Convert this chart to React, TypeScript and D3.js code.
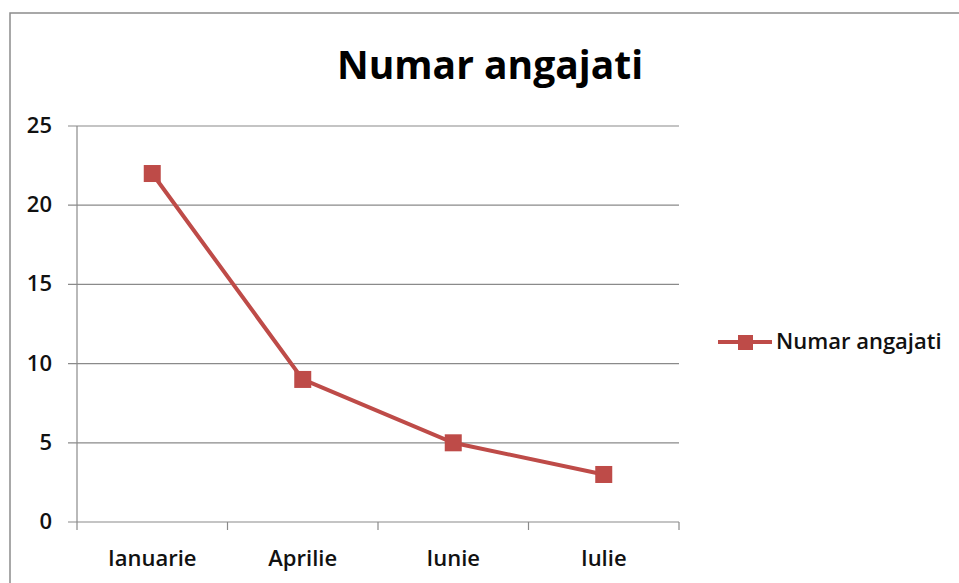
import React from "react";
import * as d3 from "d3";

const categories = ["Ianuarie", "Aprilie", "Iunie", "Iulie"];
const values = [22, 9, 5, 3];
const yTicks = [0, 5, 10, 15, 20, 25];
const seriesName = "Numar angajati";
const title = "Numar angajati";

const W = 959;
const H = 583;
const FONT = "'Open Sans', 'Noto Sans', sans-serif";
const COLOR = "#BE4B48";

export default function App() {
  const left = 77, right = 679, top = 126, bottom = 522;
  const x = d3.scaleBand<string>().domain(categories).range([left, right]);
  const y = d3.scaleLinear().domain([0, 25]).range([bottom, top]);
  const line = d3
    .line<number>()
    .x((_, i) => (x(categories[i]) as number) + x.bandwidth() / 2)
    .y((d) => y(d));
  const boundaries = categories.map((c) => (x(c) as number) + x.bandwidth());
  const ms = 17;
  return (
    <svg
      width={W}
      height={H}
      style={{ position: "absolute", left: 0, top: 0, background: "#fff" }}
    >
      <rect x={10} y={13} width={W} height={H} fill="#fff" stroke="#8c8c8c" strokeWidth={1.5} />
      <text x={490} y={79} textAnchor="middle" fontFamily={FONT} fontWeight={700} fontSize={39} fill="#000">
        {title}
      </text>
      {yTicks.map((t) => (
        <g key={t}>
          <line x1={68} x2={right} y1={y(t)} y2={y(t)} stroke="#8a8a8a" strokeWidth={1.2} />
          <text x={52} y={y(t) + 7} textAnchor="end" fontFamily={FONT} fontWeight={600} fontSize={22} fill="#111">
            {t}
          </text>
        </g>
      ))}
      <line x1={left} x2={left} y1={top} y2={bottom + 8} stroke="#8a8a8a" strokeWidth={1.2} />
      {boundaries.map((b, i) => (
        <line key={i} x1={b} x2={b} y1={bottom} y2={bottom + 8} stroke="#8a8a8a" strokeWidth={1.2} />
      ))}
      {categories.map((c) => (
        <text
          key={c}
          x={(x(c) as number) + x.bandwidth() / 2}
          y={566}
          textAnchor="middle"
          fontFamily={FONT}
          fontWeight={600}
          fontSize={22}
          fill="#111"
        >
          {c}
        </text>
      ))}
      <path d={line(values) || ""} fill="none" stroke={COLOR} strokeWidth={4} />
      {values.map((v, i) => (
        <rect
          key={i}
          x={(x(categories[i]) as number) + x.bandwidth() / 2 - ms / 2}
          y={y(v) - ms / 2}
          width={ms}
          height={ms}
          fill={COLOR}
        />
      ))}
      <line x1={718} x2={772} y1={342} y2={342} stroke={COLOR} strokeWidth={4} />
      <rect x={738} y={335} width={15} height={15} fill={COLOR} />
      <text x={776} y={349} fontFamily={FONT} fontWeight={600} fontSize={22} fill="#111">
        {seriesName}
      </text>
    </svg>
  );
}
